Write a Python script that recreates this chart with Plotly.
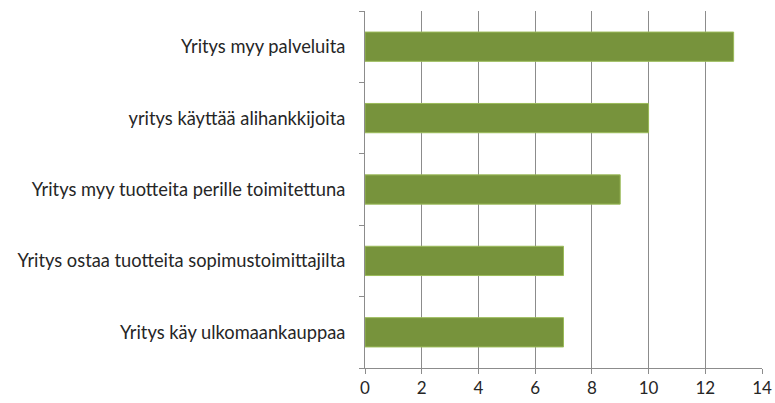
import plotly.graph_objects as go

categories = [
    "Yritys käy ulkomaankauppaa",
    "Yritys ostaa tuotteita sopimustoimittajilta",
    "Yritys myy tuotteita perille toimitettuna",
    "yritys käyttää alihankkijoita",
    "Yritys myy palveluita",
]
values = [7, 7, 9, 10, 13]
x_ticks = [0, 2, 4, 6, 8, 10, 12, 14]

fig = go.Figure(go.Bar(
    y=categories, x=values, orientation="h",
    marker=dict(color="#77933C", line=dict(color="#9BBB59", width=1)),
))

fig.update_layout(
    width=775, height=403,
    margin=dict(l=365, r=13, t=11, b=35),
    paper_bgcolor="white", plot_bgcolor="white",
    font=dict(family="Lato, Carlito, sans-serif", size=17, color="#262626"),
    bargap=0.59,
    showlegend=False,
)
fig.update_xaxes(
    range=[0, 14], tickvals=x_ticks, showgrid=True, gridcolor="#8C8C8C", gridwidth=1,
    showline=True, linecolor="#8C8C8C", ticks="outside", ticklen=5, tickcolor="#8C8C8C",
    zeroline=False, fixedrange=True, automargin=False, tickfont=dict(size=17),
)
fig.update_yaxes(
    type="category", categoryorder="array", categoryarray=categories,
    tickson="boundaries", ticks="outside", ticklen=5, tickcolor="#8C8C8C",
    showline=True, linecolor="#8C8C8C", showgrid=False, ticklabelstandoff=15,
    range=[-0.5, 4.5], automargin=False, tickfont=dict(size=18.3), fixedrange=True,
)

fig.write_html("out.html", post_script="document.body.style.margin='0';",
               config={"displayModeBar": False})
